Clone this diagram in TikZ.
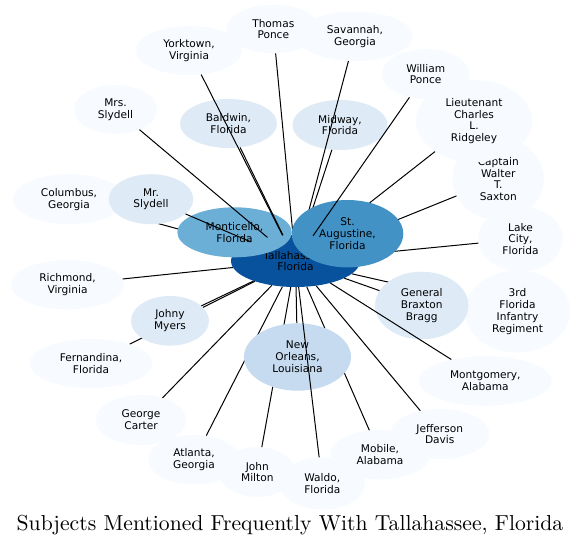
\documentclass[tikz,border=0pt]{standalone}
\usepackage{fontspec}
\usepackage{graphicx}
\usetikzlibrary{shapes.geometric}
\newfontfamily\nodefont{DejaVu Sans}
\definecolor{bA}{HTML}{F7FBFF}
\definecolor{bB}{HTML}{DEEBF7}
\definecolor{bC}{HTML}{C6DBEF}
\definecolor{bE}{HTML}{6BAED6}
\definecolor{bF}{HTML}{4292C6}
\definecolor{bH}{HTML}{08519C}
\pgfdeclarelayer{under}
\pgfdeclarelayer{nodesA}
\pgfdeclarelayer{edgesB}
\pgfdeclarelayer{nodesC}
\pgfdeclarelayer{edgesD}
\pgfsetlayers{under,nodesA,edgesB,nodesC,edgesD,main}
\tikzset{
  ent/.style n args={3}{ellipse, inner sep=0pt, draw=none, fill=#1,
    minimum width={#2*2pt}, minimum height={#3*2pt},
    font=\nodefont\fontsize{10.6}{11.8}\selectfont, align=center, text=black},
  link/.style={draw=black, line width=1pt},
}
\begin{document}
\begin{tikzpicture}[x=1pt,y=-1pt]
\useasboundingbox (0,0) rectangle (581,546);
\begin{pgfonlayer}{under}
\fill[white] (0,0) rectangle (581,546);
\end{pgfonlayer}
\begin{pgfonlayer}{nodesA}
\node[ent={bH}{64.5}{26}] (tal) at (295.5,261) {Tallahassee,\\Florida};
\node[ent={bA}{53}{24.5}] (york) at (189,50.5) {Yorktown,\\Virginia};
\node[ent={bA}{46.6}{24.2}] (thomas) at (273.3,29) {Thomas\\Ponce};
\node[ent={bA}{57.7}{24.7}] (savannah) at (355,36.3) {Savannah,\\Georgia};
\node[ent={bA}{43.7}{25}] (wponce) at (425.7,74) {William\\Ponce};
\node[ent={bA}{45.7}{41}] (captain) at (498.3,179) {Captain\\Walter\\T.\\Saxton};
\node[ent={bA}{58}{41}] (lieut) at (474,121) {Lieutenant\\Charles\\L.\\Ridgeley};
\node[ent={bA}{52.5}{41}] (third) at (517.5,311.5) {3rd\\Florida\\Infantry\\Regiment};
\node[ent={bA}{42.2}{32.5}] (lake) at (520.5,239) {Lake\\City,\\Florida};
\node[ent={bB}{46.7}{33.8}] (bragg) at (421.7,305.5) {General\\Braxton\\Bragg};
\node[ent={bA}{66.3}{24.8}] (montg) at (485.3,381) {Montgomery,\\Alabama};
\node[ent={bA}{49.7}{25}] (jeff) at (439.7,434) {Jefferson\\Davis};
\node[ent={bA}{50}{24.7}] (mobile) at (380,454.7) {Mobile,\\Alabama};
\node[ent={bA}{45.7}{24.7}] (atlanta) at (194,459.7) {Atlanta,\\Georgia};
\node[ent={bA}{38.3}{24.7}] (milton) at (257.3,472) {John\\Milton};
\node[ent={bA}{42.7}{26}] (waldo) at (322.3,483.5) {Waldo,\\Florida};
\node[ent={bA}{45}{25}] (carter) at (141,420) {George\\Carter};
\node[ent={bA}{61.5}{24.5}] (fern) at (91,363.5) {Fernandina,\\Florida};
\node[ent={bB}{39}{24.8}] (johny) at (170,320.8) {Johny\\Myers};
\node[ent={bA}{56.5}{24.7}] (richmond) at (67.5,284.7) {Richmond,\\Virginia};
\node[ent={bA}{56}{25}] (columbus) at (69,199.2) {Columbus,\\Georgia};
\node[ent={bB}{42.3}{25}] (mrsly) at (151,199.2) {Mr.\\Slydell};
\node[ent={bA}{41.5}{24.5}] (mrssly) at (115.5,109.5) {Mrs.\\Slydell};
\node[ent={bB}{48.5}{24.5}] (baldwin) at (228.5,123.5) {Baldwin,\\Florida};
\node[ent={bB}{47.5}{25}] (midway) at (340,125) {Midway,\\Florida};
\node[ent={bC}{53.5}{33.7}] (neworl) at (297.5,357) {New\\Orleans,\\Louisiana};
\end{pgfonlayer}
\begin{pgfonlayer}{nodesC}
\node[ent={bE}{57.2}{25}] (mont) at (234.5,232.3) {Monticello,\\Florida};
\node[ent={bF}{55.8}{33.7}] (staug) at (347.5,233.7) {St.\\Augustine,\\Florida};
\end{pgfonlayer}
\begin{pgfonlayer}{under}
\draw[link] (tal) -- (columbus);
\draw[link] (tal) -- (fern);
\draw[link] (tal) -- (third);
\draw[link] (tal) -- (atlanta);
\draw[link] (tal) -- (milton);
\draw[link] (tal) -- (mobile);
\end{pgfonlayer}
\begin{pgfonlayer}{edgesB}
\draw[link] (tal) -- (thomas);
\draw[link] (tal) -- (savannah);
\draw[link] (tal) -- (midway);
\draw[link] (tal) -- (lieut);
\draw[link] (tal) -- (captain);
\draw[link] (tal) -- (lake);
\draw[link] (tal) -- (bragg);
\draw[link] (tal) -- (montg);
\draw[link] (tal) -- (jeff);
\draw[link] (tal) -- (waldo);
\draw[link] (tal) -- (neworl);
\draw[link] (tal) -- (carter);
\draw[link] (tal) -- (johny);
\draw[link] (tal) -- (richmond);
\end{pgfonlayer}
\begin{pgfonlayer}{edgesD}
\draw[link] (tal) -- (york);
\draw[link] (tal) -- (baldwin);
\draw[link] (tal) -- (mrssly);
\draw[link] (tal) -- (mrsly);
\draw[link] (tal) -- (wponce);
\end{pgfonlayer}
\node[anchor=base, inner sep=0pt] (title) at (290,530) {\resizebox{546.6pt}{!}{Subjects Mentioned Frequently With Tallahassee, Florida}};
\end{tikzpicture}
\end{document}
